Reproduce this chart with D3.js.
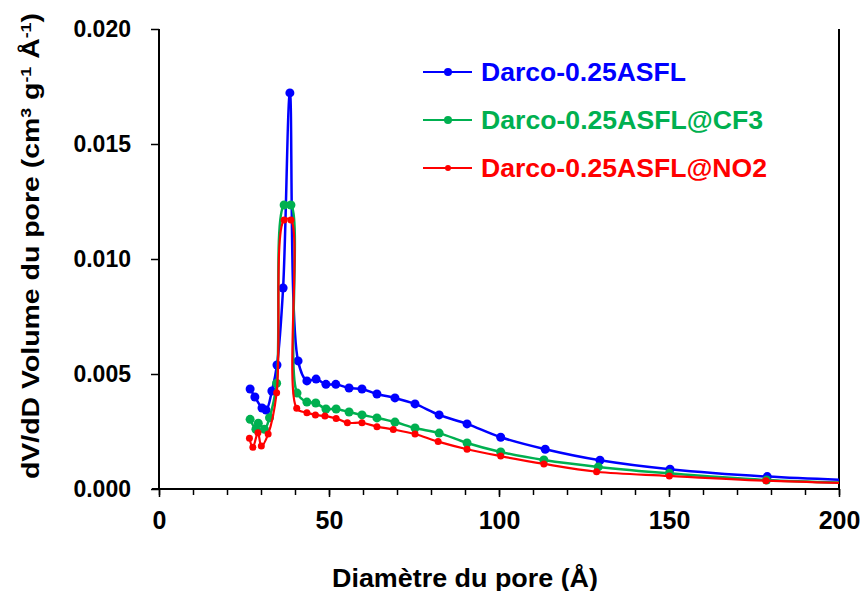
<!DOCTYPE html>
<html><head><meta charset="utf-8">
<script src="https://cdn.jsdelivr.net/npm/d3@7"></script>
<style>body{margin:0;background:#fff}svg{display:block}text{font-family:Arial,"Liberation Sans",sans-serif;font-weight:bold}</style>
</head><body><svg id="c" width="865" height="591"></svg>
<script>
const seriesNames = ["Darco-0.25ASFL", "Darco-0.25ASFL@CF3", "Darco-0.25ASFL@NO2"];
const seriesColors = ["#0000FF", "#00B050", "#FF0000"];
const blueX = [26.8, 28.2, 30.3, 31.5, 33.2, 34.7, 36.5, 38.5, 40.9, 43.5, 46.2, 49.1, 52.0, 55.9, 59.7, 64.1, 69.4, 75.3, 82.4, 90.6, 100.5, 113.6, 129.7, 150.3, 178.9, 215];
const blueY = [0.00435, 0.0040, 0.00352, 0.00343, 0.00426, 0.00539, 0.00874, 0.01722, 0.00557, 0.0047, 0.00478, 0.00455, 0.00455, 0.00439, 0.00435, 0.00413, 0.00396, 0.0037, 0.00322, 0.00283, 0.00225, 0.00173, 0.00125, 0.00086, 0.00054, 0.00033];
const greenX = [26.8, 28.5, 29.2, 31.0, 32.5, 34.6, 36.8, 38.8, 40.6, 43.5, 46.1, 49.1, 52.1, 55.9, 59.7, 64.1, 69.4, 75.3, 82.4, 90.6, 100.5, 113.2, 129.2, 150.1, 178.7, 215];
const greenY = [0.00303, 0.0026, 0.00286, 0.0026, 0.0031, 0.0046, 0.01235, 0.01235, 0.00417, 0.00378, 0.00374, 0.00348, 0.00348, 0.00335, 0.00322, 0.00309, 0.00291, 0.00265, 0.00243, 0.002, 0.00161, 0.00126, 0.00096, 0.00068, 0.00039, 0.00023];
const redX = [26.6, 27.6, 29.1, 30.1, 32.1, 34.6, 36.8, 38.8, 40.5, 43.5, 46.0, 48.8, 52.1, 55.4, 59.7, 64.1, 68.9, 75.3, 82.1, 90.6, 100.5, 113.2, 128.7, 150.1, 178.5, 215];
const redY = [0.00221, 0.00181, 0.00245, 0.00187, 0.00239, 0.00418, 0.0117, 0.0117, 0.00351, 0.00332, 0.00322, 0.00317, 0.00307, 0.00288, 0.00288, 0.00271, 0.00259, 0.00239, 0.00206, 0.00173, 0.00143, 0.00109, 0.00075, 0.00057, 0.00036, 0.00021];
const xTicks = [0, 50, 100, 150, 200];
const xMinorTicks = [0,10,20,30,40,50,60,70,80,90,100,110,120,130,140,150,160,170,180,190,200];
const yTicks = [0, 0.005, 0.010, 0.015, 0.020];

const svg = d3.select("#c");
const L = 159, R = 839, T = 29, B = 489;
const x = d3.scaleLinear().domain([0, 200]).range([L, R]);
const y = d3.scaleLinear().domain([0, 0.02]).range([B, T]);

svg.append("defs").append("clipPath").attr("id","clip").append("rect")
  .attr("x", L).attr("y", T - 10).attr("width", R - L).attr("height", B - T + 10);

// axes
const xAxis = d3.axisBottom(x).tickValues(xTicks).tickFormat(d3.format("d")).tickSize(8).tickPadding(14);
const gx = svg.append("g").attr("transform", `translate(0,${B})`).call(xAxis);
gx.selectAll("line").attr("stroke","#000").attr("stroke-width",1.5);
gx.select(".domain").remove();
gx.selectAll("text").attr("fill","#000").style("font-size","25px");
const xMinor = d3.axisBottom(x).tickValues(xMinorTicks).tickFormat("").tickSize(6);
const gxm = svg.append("g").attr("transform", `translate(0,${B})`).call(xMinor);
gxm.selectAll("line").attr("stroke","#000").attr("stroke-width",1.5);
gxm.select(".domain").remove();

const yAxis = d3.axisLeft(y).tickValues(yTicks).tickFormat(d3.format(".3f")).tickSize(8).tickPadding(20);
const gy = svg.append("g").attr("transform", `translate(${L},0)`).call(yAxis);
gy.selectAll("line").attr("stroke","#000").attr("stroke-width",1.5);
gy.select(".domain").remove();
gy.selectAll("text").attr("fill","#000").style("font-size","23px");

svg.append("line").attr("x1", L - 7).attr("x2", R + 1).attr("y1", B).attr("y2", B).attr("stroke","#000").attr("stroke-width",2);
svg.append("line").attr("x1", L).attr("x2", L).attr("y1", T).attr("y2", B + 1).attr("stroke","#000").attr("stroke-width",2);
svg.append("line").attr("x1", R).attr("x2", R).attr("y1", T).attr("y2", B + 1).attr("stroke","#000").attr("stroke-width",2);

// axis titles
svg.append("text").attr("x", 465).attr("y", 587).attr("text-anchor","middle")
  .style("font-size","25px").attr("textLength", 266).attr("lengthAdjust","spacingAndGlyphs")
  .attr("fill","#000").text("Diamètre du pore (Å)");
const yt = svg.append("text").attr("transform","translate(39,246) rotate(-90)").attr("text-anchor","middle")
  .style("font-size","24px").attr("textLength", 466).attr("lengthAdjust","spacingAndGlyphs").attr("fill","#000");
yt.append("tspan").text("dV/dD Volume du pore  (cm");
yt.append("tspan").attr("baseline-shift","super").style("font-size","15px").text("3");
yt.append("tspan").text(" g");
yt.append("tspan").attr("baseline-shift","super").style("font-size","15px").text("-1");
yt.append("tspan").text(" Å");
yt.append("tspan").attr("baseline-shift","super").style("font-size","15px").text("-1");
yt.append("tspan").text(")");

// series
const series = [
  {xs: blueX, ys: blueY, r: 4.5, w: 2.5},
  {xs: greenX, ys: greenY, r: 4.5, w: 2.5},
  {xs: redX, ys: redY, r: 3.5, w: 2.2}
];
const line = d3.line().x(d => x(d[0])).y(d => y(d[1])).curve(d3.curveCatmullRom.alpha(0.5));
const plot = svg.append("g").attr("clip-path","url(#clip)");
series.forEach((s, i) => {
  const pts = s.xs.map((v, j) => [v, s.ys[j]]);
  plot.append("path").datum(pts).attr("d", line).attr("fill","none")
    .attr("stroke", seriesColors[i]).attr("stroke-width", s.w);
  plot.selectAll(null).data(pts).enter().append("circle")
    .attr("cx", d => x(d[0])).attr("cy", d => y(d[1])).attr("r", s.r).attr("fill", seriesColors[i]);
});

// legend
const legY = [72, 120, 168];
const legW = [205, 282, 286];
seriesNames.forEach((n, i) => {
  const g = svg.append("g");
  g.append("line").attr("x1", 423).attr("x2", 472).attr("y1", legY[i]).attr("y2", legY[i])
    .attr("stroke", seriesColors[i]).attr("stroke-width", 2);
  g.append("circle").attr("cx", 448).attr("cy", legY[i]).attr("r", i === 2 ? 3 : 4).attr("fill", seriesColors[i]);
  g.append("text").attr("x", 481).attr("y", legY[i] + 9).style("font-size","25px")
    .attr("textLength", legW[i]).attr("lengthAdjust","spacingAndGlyphs")
    .attr("fill", seriesColors[i]).text(n);
});
</script></body></html>
